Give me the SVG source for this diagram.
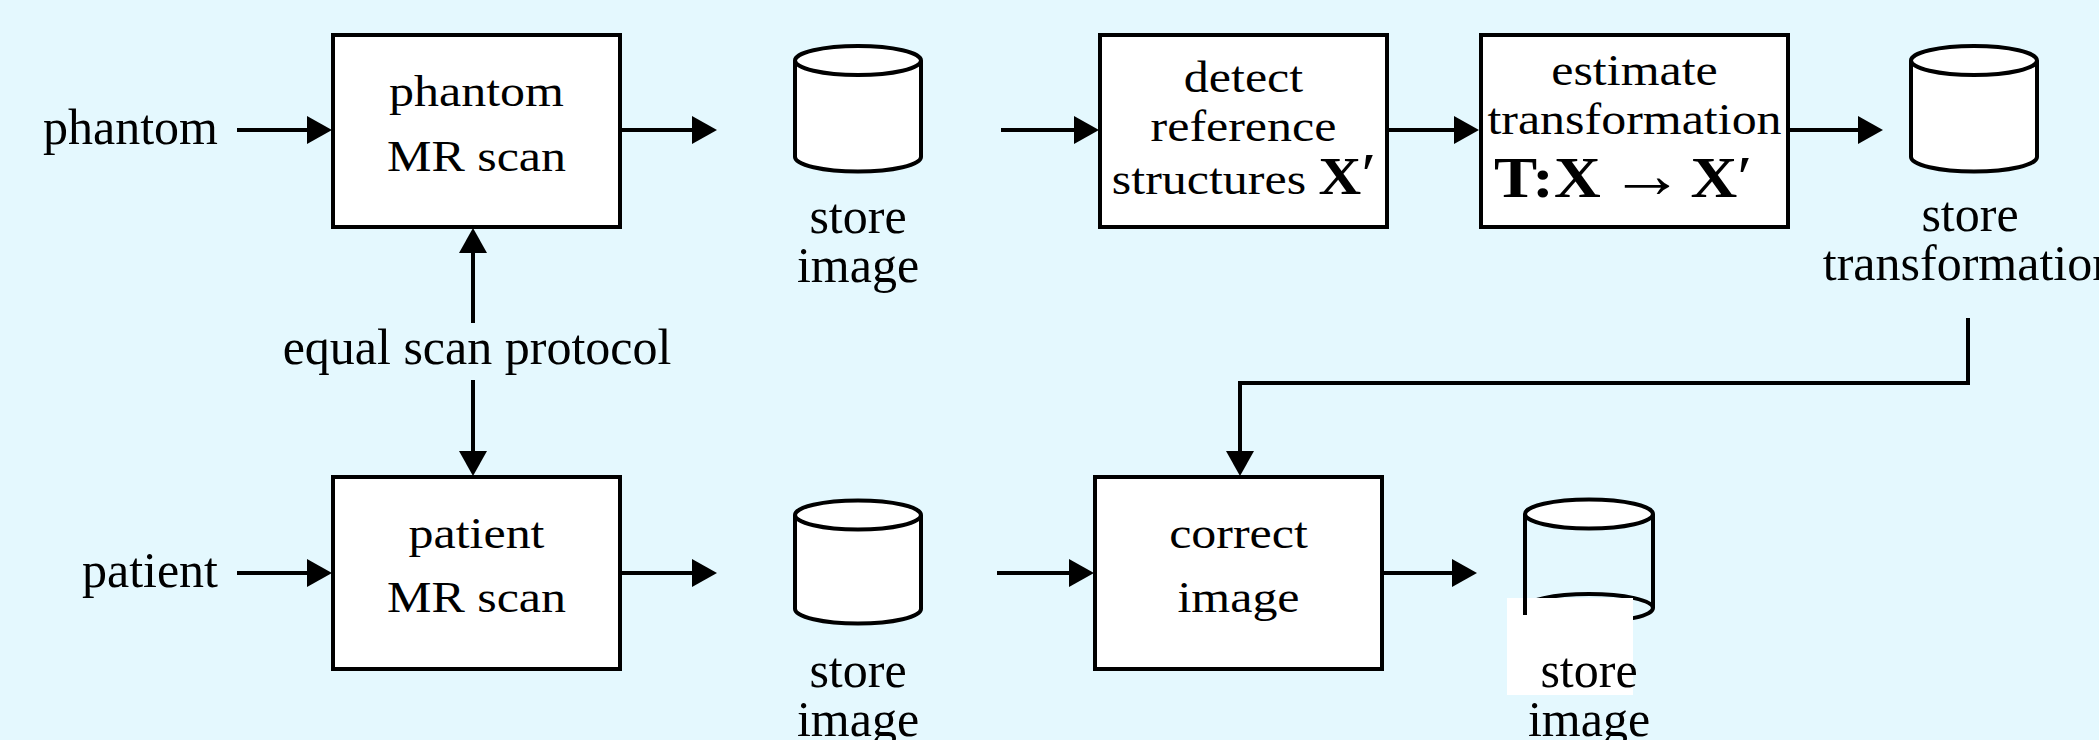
<svg xmlns="http://www.w3.org/2000/svg" width="2099" height="740" viewBox="0 0 2099 740">
<style>
.box{fill:#fff;stroke:#000;stroke-width:4}
.cyl{fill:#fff;stroke:#000;stroke-width:4}
.ln{fill:none;stroke:#000;stroke-width:4}
.lbl{font-family:"Liberation Serif","Times New Roman",serif;font-size:50px;fill:#000}
.bt{font-family:"Liberation Serif","Times New Roman",serif;font-size:44px;fill:#000;text-anchor:middle}
.bs{font-family:"Liberation Serif","Times New Roman",serif;font-size:44px;fill:#000;text-anchor:start}
.b{font-weight:bold;font-size:52px}
.bb{font-weight:bold;font-size:57px}
.m{font-size:60px}
.ar{font-size:66px}
.mid{text-anchor:middle}
.end{text-anchor:end}
</style>
<defs>
<marker id="ah" markerUnits="userSpaceOnUse" markerWidth="26" markerHeight="28" refX="2" refY="14" orient="auto" viewBox="0 0 26 28">
<path d="M0,0 L25,14 L0,28 Z" fill="#000"/>
</marker>
</defs>
<rect width="2099" height="740" fill="#E4F8FE"/>

<g id="connectors" class="conn">
<line class="ln" x1="237" y1="130" x2="309" y2="130" marker-end="url(#ah)"/>
<line class="ln" x1="620" y1="130" x2="694" y2="130" marker-end="url(#ah)"/>
<line class="ln" x1="1001" y1="130" x2="1076" y2="130" marker-end="url(#ah)"/>
<line class="ln" x1="1387" y1="130" x2="1456" y2="130" marker-end="url(#ah)"/>
<line class="ln" x1="1788" y1="130" x2="1860" y2="130" marker-end="url(#ah)"/>
<line class="ln" x1="237" y1="573" x2="309" y2="573" marker-end="url(#ah)"/>
<line class="ln" x1="620" y1="573" x2="694" y2="573" marker-end="url(#ah)"/>
<line class="ln" x1="997" y1="573" x2="1071" y2="573" marker-end="url(#ah)"/>
<line class="ln" x1="1382" y1="573" x2="1454" y2="573" marker-end="url(#ah)"/>
<line class="ln" x1="473" y1="323" x2="473" y2="251" marker-end="url(#ah)"/>
<line class="ln" x1="473" y1="380" x2="473" y2="453" marker-end="url(#ah)"/>
<path class="ln" d="M1968,318 V383 H1240 V453" marker-end="url(#ah)"/>
</g>

<g id="label-phantom"><text class="lbl end" x="218" y="144">phantom</text></g>
<g id="label-patient"><text class="lbl end" x="218" y="587">patient</text></g>
<g id="label-protocol"><text class="lbl mid" x="477" y="364">equal scan protocol</text></g>

<g id="phantom-scan">
<rect class="box" x="333" y="35" width="287" height="192"/>
<text class="bt" transform="translate(476.5,106) scale(1.136,1)">phantom</text>
<text class="bt" transform="translate(476.5,171) scale(1.136,1)">MR scan</text>
</g>

<g id="store-image-1">
<path class="cyl" d="M795,60.5 V157 A63,14.5 0 0 0 921,157 V60.5"/>
<ellipse class="cyl" cx="858" cy="60.5" rx="63" ry="14.5"/>
<text class="lbl mid" x="858" y="233">store</text>
<text class="lbl mid" x="858" y="282">image</text>
</g>

<g id="detect">
<rect class="box" x="1100" y="35" width="287" height="192"/>
<text class="bt" transform="translate(1243.5,92) scale(1.136,1)">detect</text>
<text class="bt" transform="translate(1243.5,141) scale(1.136,1)">reference</text>
<text class="bt" transform="translate(1244,194) scale(1.136,1)">structures <tspan class="b">X</tspan><tspan class="m">′</tspan></text>
</g>

<g id="estimate">
<rect class="box" x="1481" y="35" width="307" height="192"/>
<text class="bt" transform="translate(1634.5,85) scale(1.136,1)">estimate</text>
<text class="bt" transform="translate(1634.5,134) scale(1.136,1)">transformation</text>
<text class="bs" transform="translate(1494,197) scale(1.136,1)"><tspan class="bb" x="0">T:X</tspan><tspan class="ar" x="102">→</tspan><tspan class="bb" x="173">X</tspan><tspan class="m">′</tspan></text>
</g>

<g id="store-transformation">
<path class="cyl" d="M1911,60.5 V157 A63,14.5 0 0 0 2037,157 V60.5"/>
<ellipse class="cyl" cx="1974" cy="60.5" rx="63" ry="14.5"/>
<text class="lbl mid" x="1970" y="231">store</text>
<text class="lbl mid" x="1970" y="280">transformation</text>
</g>

<g id="patient-scan">
<rect class="box" x="333" y="477" width="287" height="192"/>
<text class="bt" transform="translate(476.5,548) scale(1.136,1)">patient</text>
<text class="bt" transform="translate(476.5,612) scale(1.136,1)">MR scan</text>
</g>

<g id="store-image-2">
<path class="cyl" d="M795,515 V609 A63,14.5 0 0 0 921,609 V515"/>
<ellipse class="cyl" cx="858" cy="515" rx="63" ry="14.5"/>
<text class="lbl mid" x="858" y="687">store</text>
<text class="lbl mid" x="858" y="736">image</text>
</g>

<g id="correct">
<rect class="box" x="1095" y="477" width="287" height="192"/>
<text class="bt" transform="translate(1238.5,548) scale(1.136,1)">correct</text>
<text class="bt" transform="translate(1238.5,612) scale(1.136,1)">image</text>
</g>

<g id="store-image-3">
<line class="ln" x1="1653" y1="514" x2="1653" y2="608"/>
<ellipse class="ln" cx="1589" cy="608" rx="64" ry="14"/>
<ellipse class="cyl" cx="1589" cy="514" rx="64" ry="14.5"/>
<rect x="1507" y="598" width="126" height="97" fill="#fff"/>
<line class="ln" x1="1525" y1="514" x2="1525" y2="615"/>
<text class="lbl mid" x="1589" y="687">store</text>
<text class="lbl mid" x="1589" y="736">image</text>
</g>
</svg>
